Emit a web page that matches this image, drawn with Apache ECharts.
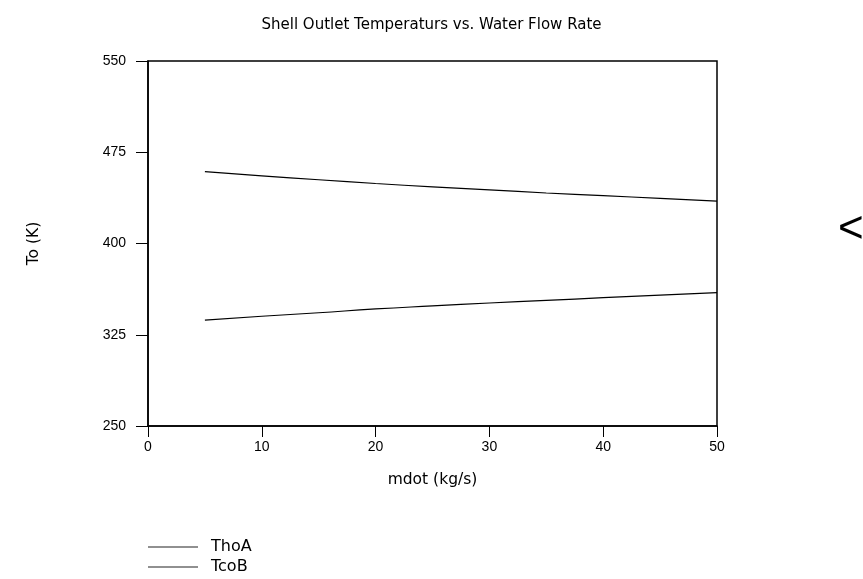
<!DOCTYPE html>
<html>
<head>
<meta charset="utf-8">
<script src="https://cdn.jsdelivr.net/npm/echarts@6/dist/echarts.min.js"></script>
<style>html,body{margin:0;padding:0;background:#fff}#c{width:863px;height:579px}</style>
</head>
<body>
<div id="c"></div>
<script>
const xValues = [5, 10, 15, 20, 25, 30, 35, 40, 45, 50];
const thoA = [459.0, 455.6, 452.4, 449.3, 446.6, 444.1, 441.5, 439.3, 437.1, 434.9];
const tcoB = [337.1, 340.2, 343.1, 346.2, 348.7, 351.1, 353.2, 355.5, 357.6, 359.6];
const seriesNames = ['ThoA', 'TcoB'];
const titleText = 'Shell Outlet Temperaturs vs. Water Flow Rate';
const xName = 'mdot (kg/s)';
const yName = 'To (K)';

const font = 'Liberation Sans, Arial, sans-serif';
const wide = 'DejaVu Sans, sans-serif';
const chart = echarts.init(document.getElementById('c'));
const pair = (ys) => xValues.map((x, i) => [x, ys[i]]);
chart.setOption({
  animation: false,
  backgroundColor: '#fff',
  title: {
    text: titleText, left: 'center', top: 13,
    textStyle: { fontFamily: wide, fontSize: 15, fontWeight: 'normal', color: '#000' }
  },
  grid: {
    left: 148, right: 146, top: 61, bottom: 153,
    show: true, borderColor: '#000', borderWidth: 1.5, backgroundColor: 'transparent'
  },
  xAxis: {
    type: 'value', min: 0, max: 50, interval: 10,
    name: xName, nameLocation: 'middle', nameGap: 46,
    nameTextStyle: { fontFamily: wide, fontSize: 15.5, color: '#000' },
    axisLine: { show: true, lineStyle: { color: '#000', width: 1.5 } },
    axisTick: { show: true, inside: false, length: 11, lineStyle: { color: '#000' } },
    axisLabel: { fontFamily: font, fontSize: 14, color: '#000', margin: 14 },
    splitLine: { show: false }
  },
  yAxis: {
    type: 'value', min: 250, max: 550, interval: 75,
    name: yName, nameLocation: 'middle', nameGap: 106, nameRotate: 90,
    nameTextStyle: { fontFamily: wide, fontSize: 15.5, color: '#000' },
    axisLine: { show: true, lineStyle: { color: '#000', width: 1.5 } },
    axisTick: { show: true, inside: false, length: 12, lineStyle: { color: '#000' } },
    axisLabel: { fontFamily: font, fontSize: 14, color: '#000', margin: 22 },
    splitLine: { show: false }
  },
  legend: {
    orient: 'vertical', left: 148, top: 539, padding: 0,
    itemWidth: 50, itemHeight: 15, itemGap: 4,
    icon: 'path://M0,7 L50,7 L50,8 L0,8 Z',
    itemStyle: { color: '#222' },
    textStyle: { fontFamily: wide, fontSize: 16, color: '#000', padding: [0, 0, 0, 8] },
    data: seriesNames
  },
  series: [
    { name: seriesNames[0], type: 'line', data: pair(thoA), symbol: 'none', smooth: true,
      lineStyle: { color: '#000', width: 1.2 }, itemStyle: { color: '#222' } },
    { name: seriesNames[1], type: 'line', data: pair(tcoB), symbol: 'none', smooth: true,
      lineStyle: { color: '#000', width: 1.2 }, itemStyle: { color: '#222' } }
  ],
  graphic: [
    { type: 'text', left: 838, top: 208, style: { text: '<', fontFamily: font, fontSize: 44, fill: '#000' } }
  ]
});
</script>
</body>
</html>
